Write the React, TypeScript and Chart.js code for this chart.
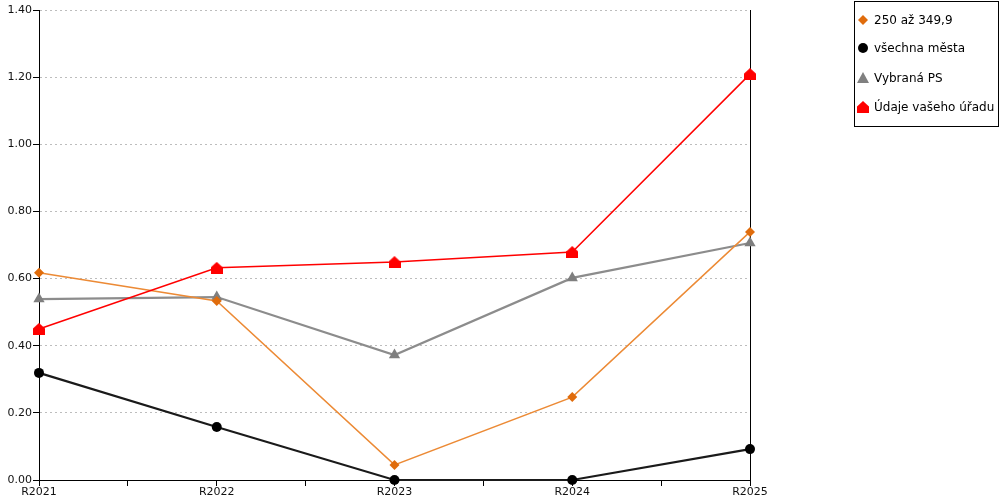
import React, { useEffect, useRef } from "react";
import Chart from "chart.js/auto";

const categories = ["R2021", "R2022", "R2023", "R2024", "R2025"];
const seriesNames = ["250 až 349,9", "všechna města", "Vybraná PS", "Údaje vašeho úřadu"];
const range250 = [0.617, 0.533, 0.045, 0.247, 0.739];
const allCities = [0.319, 0.158, 0, 0, 0.092];
const selectedPS = [0.539, 0.545, 0.372, 0.602, 0.706];
const yourOffice = [0.45, 0.632, 0.649, 0.679, 1.209];
const yMin = 0;
const yMax = 1.4;
const yStep = 0.2;

// small "house" marker for the red series
function makeHouse(color: string, size: number) {
  const c = document.createElement("canvas");
  c.width = size;
  c.height = size;
  const ctx = c.getContext("2d");
  if (ctx) {
    ctx.fillStyle = color;
    ctx.beginPath();
    ctx.moveTo(size / 2, 0);
    ctx.lineTo(size, size * 0.45);
    ctx.lineTo(size, size);
    ctx.lineTo(0, size);
    ctx.lineTo(0, size * 0.45);
    ctx.closePath();
    ctx.fill();
  }
  return c;
}

const toPoints = (arr: number[]) => arr.map((y, i) => ({ x: i, y }));

const App: React.FC = () => {
  const canvasRef = useRef<HTMLCanvasElement | null>(null);
  const chartRef = useRef<Chart | null>(null);

  useEffect(() => {
    if (!canvasRef.current) return;
    if (chartRef.current) chartRef.current.destroy();
    const ctx = canvasRef.current.getContext("2d");
    if (!ctx) return;

    Chart.defaults.font.family = "'DejaVu Sans', Verdana, sans-serif";
    Chart.defaults.font.size = 11;
    Chart.defaults.color = "#111";

    const house = makeHouse("#ff0000", 12);

    const legendPlugin = {
      id: "boxLegend",
      afterDraw(chart: any) {
        const c = chart.ctx as CanvasRenderingContext2D;
        c.save();
        c.strokeStyle = "#000";
        c.lineWidth = 1;
        c.strokeRect(854.5, 1.5, 144, 125);
        c.font = "12px 'DejaVu Sans', Verdana, sans-serif";
        c.textBaseline = "middle";
        const rows = [20, 48, 78, 107];
        const mx = 863;
        rows.forEach((y, i) => {
          c.beginPath();
          if (i === 0) {
            c.fillStyle = "#e06c0c";
            c.moveTo(mx - 5, y);
            c.lineTo(mx, y - 5);
            c.lineTo(mx + 5, y);
            c.lineTo(mx, y + 5);
            c.closePath();
            c.fill();
          } else if (i === 1) {
            c.fillStyle = "#000";
            c.arc(mx, y, 5, 0, Math.PI * 2);
            c.fill();
          } else if (i === 2) {
            c.fillStyle = "#808080";
            c.moveTo(mx, y - 6);
            c.lineTo(mx + 6, y + 5);
            c.lineTo(mx - 6, y + 5);
            c.closePath();
            c.fill();
          } else {
            c.drawImage(house, mx - 6, y - 6);
          }
          c.fillStyle = "#000";
          c.fillText(seriesNames[i], 874, y + 1);
        });
        c.restore();
      },
    };

    chartRef.current = new Chart(ctx, {
      type: "line",
      data: {
        datasets: [
          {
            label: seriesNames[3],
            data: toPoints(yourOffice),
            borderColor: "#ff0000",
            backgroundColor: "#ff0000",
            borderWidth: 1.5,
            pointStyle: house,
            pointRadius: 6,
            order: 0,
            clip: false,
          },
          {
            label: seriesNames[0],
            data: toPoints(range250),
            borderColor: "#ec8a35",
            backgroundColor: "#e06c0c",
            pointBorderColor: "#e06c0c",
            borderWidth: 1.5,
            pointStyle: "rectRot",
            pointRadius: 5,
            pointBorderWidth: 0,
            order: 1,
            clip: false,
          },
          {
            label: seriesNames[2],
            data: toPoints(selectedPS),
            borderColor: "#8c8c8c",
            backgroundColor: "#7f7f7f",
            pointBorderColor: "#7f7f7f",
            borderWidth: 2.2,
            pointStyle: "triangle",
            pointRadius: 6.5,
            pointBorderWidth: 0,
            order: 2,
            clip: false,
          },
          {
            label: seriesNames[1],
            data: toPoints(allCities),
            borderColor: "#1a1a1a",
            backgroundColor: "#000",
            pointBorderColor: "#000",
            borderWidth: 2.2,
            pointStyle: "circle",
            pointRadius: 5,
            pointBorderWidth: 0,
            order: 3,
            clip: false,
          },
        ],
      },
      options: {
        animation: false,
        responsive: true,
        maintainAspectRatio: false,
        layout: { padding: { top: 10, right: 250, bottom: 0, left: 0 } },
        plugins: { legend: { display: false }, tooltip: { enabled: false } },
        scales: {
          x: {
            type: "linear",
            min: 0,
            max: categories.length - 1,
            ticks: {
              stepSize: 0.5,
              autoSkip: false,
              maxRotation: 0,
              padding: 0,
              callback: (v: any) => (Number.isInteger(v) ? categories[v] : ""),
            },
            grid: { drawOnChartArea: false, color: "#000", tickLength: 6 },
            border: { color: "#000", width: 1 },
            afterFit: (s: any) => {
              s.height = 20;
            },
          },
          y: {
            min: yMin,
            max: yMax,
            ticks: {
              stepSize: yStep,
              padding: 1,
              callback: (v: any) => Number(v).toFixed(2),
            },
            grid: {
              color: "#bdbdbd",
              tickColor: "#000",
              tickLength: 6,
              tickBorderDash: [],
            },
            border: { color: "#000", width: 1, dash: [2, 3] },
            afterFit: (s: any) => {
              s.width = 39;
            },
          },
          y2: {
            position: "right",
            min: yMin,
            max: yMax,
            ticks: { display: false },
            grid: { display: false, drawOnChartArea: false },
            border: { display: true, color: "#000", width: 1 },
            afterFit: (s: any) => {
              s.width = 0;
            },
          },
        },
      },
      plugins: [legendPlugin],
    } as any);

    return () => {
      if (chartRef.current) {
        chartRef.current.destroy();
        chartRef.current = null;
      }
    };
  }, []);

  return (
    <div style={{ position: "absolute", left: 0, top: 0, width: 1000, height: 500, background: "#fff" }}>
      <canvas ref={canvasRef}></canvas>
    </div>
  );
};

export default App;
